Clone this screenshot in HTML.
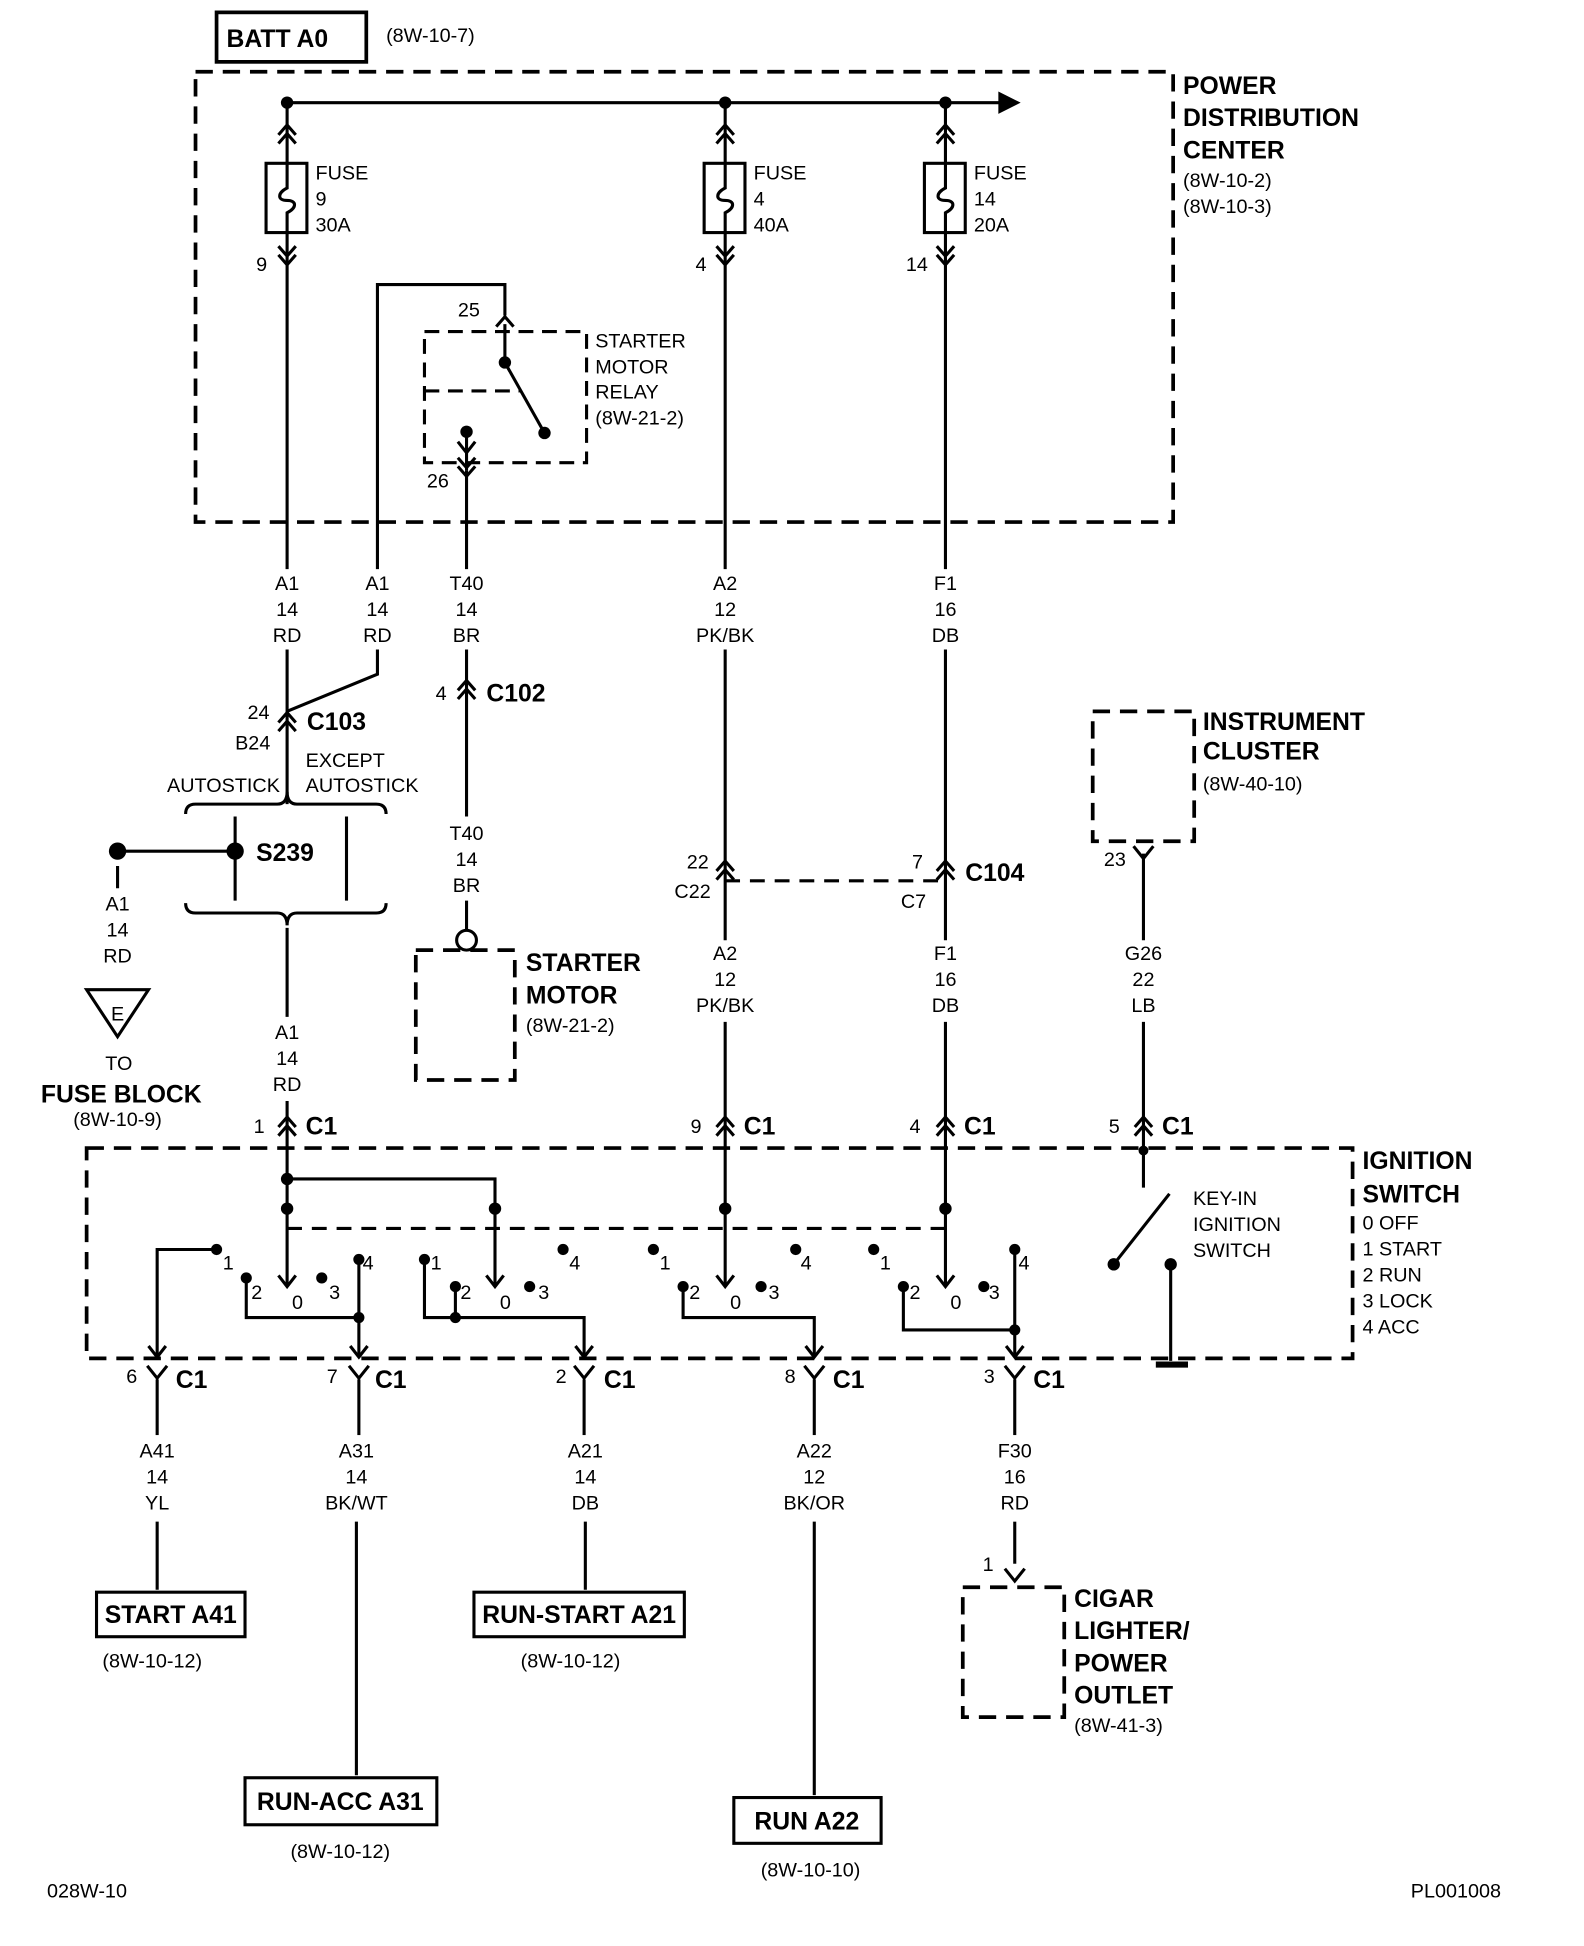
<!DOCTYPE html>
<html><head><meta charset="utf-8"><style>
html,body{margin:0;padding:0;background:#fff}
svg{display:block}
text{font-family:"Liberation Sans Narrow","Liberation Sans",sans-serif;fill:#000}
.s{font-size:16px}
.b{font-size:20px;font-weight:bold}
.m{text-anchor:middle}
</style></head><body>
<svg width="1584" height="1946" viewBox="0 0 1280 1573" preserveAspectRatio="none" xmlns="http://www.w3.org/2000/svg">
<defs>
<g id="up2"><polyline points="-7,6 0,-2 7,6" fill="none" stroke="#000" stroke-width="2.5"/><polyline points="-7,13 0,5 7,13" fill="none" stroke="#000" stroke-width="2.5"/></g>
<g id="dn2"><polyline points="-7,-6 0,2 7,-6" fill="none" stroke="#000" stroke-width="2.5"/><polyline points="-7,-13 0,-5 7,-13" fill="none" stroke="#000" stroke-width="2.5"/></g>
<g id="up1"><polyline points="-7,6 0,-2 7,6" fill="none" stroke="#000" stroke-width="2.5"/></g>
<g id="y1"><polyline points="-8,-8 0,2 8,-8" fill="none" stroke="#000" stroke-width="2.5"/></g>
<g id="arr"><polyline points="-7,-9 0,0 7,-9" fill="none" stroke="#000" stroke-width="2.5"/></g>
</defs>
<g stroke="#000" stroke-width="2.5" fill="none">
<rect x="175" y="10" width="121" height="40" stroke-width="3"/>
<rect x="158" y="58" width="790" height="364" stroke-width="3" stroke-dasharray="14,8"/>
<line x1="232" y1="83" x2="812" y2="83"/>
<polygon points="808,76 822,83 808,90" fill="#000"/>
<rect x="215" y="132" width="33" height="56"/>
<rect x="569" y="132" width="33" height="56"/>
<rect x="747" y="132" width="33" height="56"/>
<path d="M232,132 v20 c-8,4 -8,10 0,10 c8,0 8,6 0,10 v16"/>
<path d="M586,132 v20 c-8,4 -8,10 0,10 c8,0 8,6 0,10 v16"/>
<path d="M764,132 v20 c-8,4 -8,10 0,10 c8,0 8,6 0,10 v16"/>
<line x1="232" y1="83" x2="232" y2="132"/><line x1="232" y1="188" x2="232" y2="460"/>
<line x1="586" y1="83" x2="586" y2="132"/><line x1="586" y1="188" x2="586" y2="460"/>
<line x1="764" y1="83" x2="764" y2="132"/><line x1="764" y1="188" x2="764" y2="460"/>
<polyline points="305,460 305,230 408,230 408,255"/>
<rect x="343" y="268" width="131" height="106" stroke-dasharray="12,7"/>
<line x1="408" y1="262" x2="408" y2="293"/>
<line x1="408" y1="293" x2="440" y2="350"/>
<line x1="343" y1="316" x2="420" y2="316" stroke-dasharray="12,7"/>
<line x1="377" y1="349" x2="377" y2="380"/>
<line x1="377" y1="380" x2="377" y2="460"/>
<line x1="232" y1="525" x2="232" y2="650"/>
<polyline points="305,525 305,545 232,575"/>
<line x1="377" y1="525" x2="377" y2="660"/>
<line x1="377" y1="728" x2="377" y2="752"/>
<circle cx="377" cy="760" r="8"/>
<rect x="336" y="768" width="80" height="105" stroke-width="3" stroke-dasharray="14,8"/>
<line x1="586" y1="525" x2="586" y2="760"/><line x1="586" y1="826" x2="586" y2="1040"/>
<line x1="764" y1="525" x2="764" y2="760"/><line x1="764" y1="826" x2="764" y2="1040"/>
<line x1="586" y1="712" x2="764" y2="712" stroke-dasharray="12,8"/>
<path d="M150,658 q0,-8 8,-8 h66 q8,0 8,-10 q0,10 8,10 h64 q8,0 8,8"/>
<path d="M150,730 q0,8 8,8 h66 q8,0 8,10 q0,-10 8,-10 h64 q8,0 8,-8"/>
<line x1="190" y1="660" x2="190" y2="728"/>
<line x1="280" y1="660" x2="280" y2="728"/>
<line x1="95" y1="688" x2="190" y2="688"/>
<line x1="95" y1="700" x2="95" y2="718"/>
<polygon points="70,800 120,800 95,838"/>
<line x1="232" y1="750" x2="232" y2="822"/><line x1="232" y1="890" x2="232" y2="1040"/>
<rect x="883" y="575" width="82" height="105" stroke-width="3" stroke-dasharray="14,8"/>
<line x1="924" y1="690" x2="924" y2="760"/><line x1="924" y1="826" x2="924" y2="960"/>
<rect x="70" y="928" width="1023" height="170" stroke-width="3" stroke-dasharray="14,8"/>
<polyline points="232,953 400,953 400,1040"/>
<line x1="232" y1="993" x2="764" y2="993" stroke-dasharray="12,8"/>
<polyline points="175,1010 127,1010 127,1095"/>
<polyline points="199,1033 199,1065 290,1065"/>
<line x1="290" y1="1018" x2="290" y2="1095"/>
<polyline points="343,1018 343,1065 472,1065 472,1095"/>
<line x1="368" y1="1040" x2="368" y2="1065"/>
<polyline points="552,1040 552,1065 658,1065 658,1095"/>
<polyline points="730,1040 730,1075 820,1075"/>
<line x1="820" y1="1010" x2="820" y2="1095"/>
<line x1="945" y1="965" x2="900" y2="1022"/>
<line x1="946" y1="1022" x2="946" y2="1100"/>
<line x1="934" y1="1103" x2="960" y2="1103" stroke-width="5"/>
<line x1="127" y1="1115" x2="127" y2="1160"/><line x1="127" y1="1230" x2="127" y2="1285"/>
<line x1="290" y1="1115" x2="290" y2="1160"/><line x1="288" y1="1230" x2="288" y2="1435"/>
<line x1="472" y1="1115" x2="472" y2="1160"/><line x1="473" y1="1230" x2="473" y2="1285"/>
<line x1="658" y1="1115" x2="658" y2="1160"/><line x1="658" y1="1230" x2="658" y2="1451"/>
<line x1="820" y1="1115" x2="820" y2="1160"/><line x1="820" y1="1230" x2="820" y2="1264"/>
<rect x="78" y="1287" width="120" height="36"/>
<rect x="383" y="1287" width="170" height="36"/>
<rect x="198" y="1437" width="155" height="38"/>
<rect x="593" y="1453" width="119" height="37"/>
<rect x="778" y="1283" width="82" height="105" stroke-width="3" stroke-dasharray="14,8"/>
</g>
<use href="#up2" x="232" y="103"/><use href="#up2" x="586" y="103"/><use href="#up2" x="764" y="103"/>
<use href="#dn2" x="232" y="212"/><use href="#dn2" x="586" y="212"/><use href="#dn2" x="764" y="212"/>
<use href="#up1" x="408" y="258"/><use href="#arr" x="377" y="366"/><use href="#dn2" x="377" y="383"/>
<use href="#up2" x="232" y="578"/><use href="#up2" x="377" y="552"/>
<use href="#up2" x="586" y="698"/><use href="#up2" x="764" y="698"/>
<use href="#y1" x="924" y="692"/>
<use href="#up2" x="232" y="905"/><use href="#up2" x="586" y="905"/><use href="#up2" x="764" y="905"/><use href="#up2" x="924" y="905"/>
<use href="#arr" x="127" y="1097"/><use href="#arr" x="290" y="1097"/><use href="#arr" x="472" y="1097"/><use href="#arr" x="658" y="1097"/><use href="#arr" x="820" y="1097"/>
<use href="#arr" x="232" y="1040"/><use href="#arr" x="400" y="1040"/><use href="#arr" x="586" y="1040"/><use href="#arr" x="764" y="1040"/>
<use href="#y1" x="127" y="1112"/><use href="#y1" x="290" y="1112"/><use href="#y1" x="472" y="1112"/><use href="#y1" x="658" y="1112"/><use href="#y1" x="820" y="1112"/>
<use href="#y1" x="820" y="1276"/>
<g fill="#000">
<circle cx="232" cy="83" r="5"/><circle cx="586" cy="83" r="5"/><circle cx="764" cy="83" r="5"/>
<circle cx="408" cy="293" r="5"/><circle cx="440" cy="350" r="5"/><circle cx="377" cy="349" r="5"/>
<circle cx="95" cy="688" r="7"/><circle cx="190" cy="688" r="7"/>
<circle cx="232" cy="953" r="5"/><circle cx="232" cy="977" r="5"/><circle cx="400" cy="977" r="5"/><circle cx="586" cy="977" r="5"/><circle cx="764" cy="977" r="5"/>
<circle cx="175" cy="1010" r="4.5"/><circle cx="199" cy="1033" r="4.5"/><circle cx="260" cy="1033" r="4.5"/><circle cx="290" cy="1018" r="4.5"/><circle cx="290" cy="1065" r="4.5"/>
<circle cx="343" cy="1018" r="4.5"/><circle cx="368" cy="1040" r="4.5"/><circle cx="368" cy="1065" r="4.5"/><circle cx="428" cy="1040" r="4.5"/><circle cx="455" cy="1010" r="4.5"/>
<circle cx="528" cy="1010" r="4.5"/><circle cx="552" cy="1040" r="4.5"/><circle cx="615" cy="1040" r="4.5"/><circle cx="643" cy="1010" r="4.5"/>
<circle cx="706" cy="1010" r="4.5"/><circle cx="730" cy="1040" r="4.5"/><circle cx="795" cy="1040" r="4.5"/><circle cx="820" cy="1010" r="4.5"/><circle cx="820" cy="1075" r="4.5"/>
<circle cx="900" cy="1022" r="5"/><circle cx="946" cy="1022" r="5"/><circle cx="924" cy="930" r="4"/>
</g>
<text class="b" x="183" y="38">BATT A0</text>
<text class="s" x="312" y="34">(8W-10-7)</text>
<text class="b" x="956" y="76">POWER</text><text class="b" x="956" y="102">DISTRIBUTION</text><text class="b" x="956" y="128">CENTER</text>
<text class="s" x="956" y="151">(8W-10-2)</text><text class="s" x="956" y="172">(8W-10-3)</text>
<text class="s" x="255" y="145">FUSE</text><text class="s" x="255" y="166">9</text><text class="s" x="255" y="187">30A</text>
<text class="s" x="609" y="145">FUSE</text><text class="s" x="609" y="166">4</text><text class="s" x="609" y="187">40A</text>
<text class="s" x="787" y="145">FUSE</text><text class="s" x="787" y="166">14</text><text class="s" x="787" y="187">20A</text>
<text class="s" x="207" y="219">9</text><text class="s" x="562" y="219">4</text><text class="s" x="732" y="219">14</text>
<text class="s" x="370" y="256">25</text><text class="s" x="345" y="394">26</text>
<text class="s" x="481" y="281">STARTER</text><text class="s" x="481" y="302">MOTOR</text><text class="s" x="481" y="322">RELAY</text><text class="s" x="481" y="343">(8W-21-2)</text>
<text class="s m" x="232" y="477">A1</text><text class="s m" x="232" y="498">14</text><text class="s m" x="232" y="519">RD</text>
<text class="s m" x="305" y="477">A1</text><text class="s m" x="305" y="498">14</text><text class="s m" x="305" y="519">RD</text>
<text class="s m" x="377" y="477">T40</text><text class="s m" x="377" y="498">14</text><text class="s m" x="377" y="519">BR</text>
<text class="s m" x="586" y="477">A2</text><text class="s m" x="586" y="498">12</text><text class="s m" x="586" y="519">PK/BK</text>
<text class="s m" x="764" y="477">F1</text><text class="s m" x="764" y="498">16</text><text class="s m" x="764" y="519">DB</text>
<text class="s m" x="377" y="679">T40</text><text class="s m" x="377" y="700">14</text><text class="s m" x="377" y="721">BR</text>
<text class="s m" x="586" y="776">A2</text><text class="s m" x="586" y="797">12</text><text class="s m" x="586" y="818">PK/BK</text>
<text class="s m" x="764" y="776">F1</text><text class="s m" x="764" y="797">16</text><text class="s m" x="764" y="818">DB</text>
<text class="s m" x="924" y="776">G26</text><text class="s m" x="924" y="797">22</text><text class="s m" x="924" y="818">LB</text>
<text class="s m" x="95" y="736">A1</text><text class="s m" x="95" y="757">14</text><text class="s m" x="95" y="778">RD</text>
<text class="s m" x="95" y="825">E</text><text class="s m" x="96" y="865">TO</text>
<text class="b m" x="98" y="891">FUSE BLOCK</text><text class="s m" x="95" y="910">(8W-10-9)</text>
<text class="s m" x="232" y="840">A1</text><text class="s m" x="232" y="861">14</text><text class="s m" x="232" y="882">RD</text>
<text class="s m" x="127" y="1178">A41</text><text class="s m" x="127" y="1199">14</text><text class="s m" x="127" y="1220">YL</text>
<text class="s m" x="288" y="1178">A31</text><text class="s m" x="288" y="1199">14</text><text class="s m" x="288" y="1220">BK/WT</text>
<text class="s m" x="473" y="1178">A21</text><text class="s m" x="473" y="1199">14</text><text class="s m" x="473" y="1220">DB</text>
<text class="s m" x="658" y="1178">A22</text><text class="s m" x="658" y="1199">12</text><text class="s m" x="658" y="1220">BK/OR</text>
<text class="s m" x="820" y="1178">F30</text><text class="s m" x="820" y="1199">16</text><text class="s m" x="820" y="1220">RD</text>
<text class="b m" x="138" y="1312">START A41</text><text class="s m" x="123" y="1348">(8W-10-12)</text>
<text class="b m" x="468" y="1312">RUN-START A21</text><text class="s m" x="461" y="1348">(8W-10-12)</text>
<text class="b m" x="275" y="1463">RUN-ACC A31</text><text class="s m" x="275" y="1502">(8W-10-12)</text>
<text class="b m" x="652" y="1479">RUN A22</text><text class="s m" x="655" y="1517">(8W-10-10)</text>
<text class="s" x="200" y="581">24</text><text class="s" x="190" y="606">B24</text><text class="b" x="248" y="590">C103</text>
<text class="s" x="352" y="566">4</text><text class="b" x="393" y="567">C102</text>
<text class="s" x="247" y="620">EXCEPT</text><text class="s" x="247" y="640">AUTOSTICK</text><text class="s" x="135" y="640">AUTOSTICK</text>
<text class="b" x="207" y="696">S239</text>
<text class="b" x="425" y="785">STARTER</text><text class="b" x="425" y="811">MOTOR</text><text class="s" x="425" y="834">(8W-21-2)</text>
<text class="b" x="972" y="590">INSTRUMENT</text><text class="b" x="972" y="614">CLUSTER</text><text class="s" x="972" y="639">(8W-40-10)</text>
<text class="s" x="892" y="700">23</text>
<text class="s" x="555" y="702">22</text><text class="s" x="545" y="726">C22</text><text class="s" x="737" y="702">7</text><text class="s" x="728" y="734">C7</text><text class="b" x="780" y="712">C104</text>
<text class="s" x="205" y="916">1</text><text class="b" x="247" y="917">C1</text>
<text class="s" x="558" y="916">9</text><text class="b" x="601" y="917">C1</text>
<text class="s" x="735" y="916">4</text><text class="b" x="779" y="917">C1</text>
<text class="s" x="896" y="916">5</text><text class="b" x="939" y="917">C1</text>
<text class="b" x="1101" y="945">IGNITION</text><text class="b" x="1101" y="972">SWITCH</text>
<text class="s" x="1101" y="994">0 OFF</text><text class="s" x="1101" y="1015">1 START</text><text class="s" x="1101" y="1036">2 RUN</text><text class="s" x="1101" y="1057">3 LOCK</text><text class="s" x="1101" y="1078">4 ACC</text>
<text class="s" x="964" y="974">KEY-IN</text><text class="s" x="964" y="995">IGNITION</text><text class="s" x="964" y="1016">SWITCH</text>
<text class="s" x="180" y="1026">1</text><text class="s" x="203" y="1050">2</text><text class="s" x="236" y="1058">0</text><text class="s" x="266" y="1050">3</text><text class="s" x="293" y="1026">4</text>
<text class="s" x="348" y="1026">1</text><text class="s" x="372" y="1050">2</text><text class="s" x="404" y="1058">0</text><text class="s" x="435" y="1050">3</text><text class="s" x="460" y="1026">4</text>
<text class="s" x="533" y="1026">1</text><text class="s" x="557" y="1050">2</text><text class="s" x="590" y="1058">0</text><text class="s" x="621" y="1050">3</text><text class="s" x="647" y="1026">4</text>
<text class="s" x="711" y="1026">1</text><text class="s" x="735" y="1050">2</text><text class="s" x="768" y="1058">0</text><text class="s" x="799" y="1050">3</text><text class="s" x="823" y="1026">4</text>
<text class="s" x="102" y="1118">6</text><text class="b" x="142" y="1122">C1</text>
<text class="s" x="264" y="1118">7</text><text class="b" x="303" y="1122">C1</text>
<text class="s" x="449" y="1118">2</text><text class="b" x="488" y="1122">C1</text>
<text class="s" x="634" y="1118">8</text><text class="b" x="673" y="1122">C1</text>
<text class="s" x="795" y="1118">3</text><text class="b" x="835" y="1122">C1</text>
<text class="s" x="794" y="1270">1</text>
<text class="b" x="868" y="1299">CIGAR</text><text class="b" x="868" y="1325">LIGHTER/</text><text class="b" x="868" y="1351">POWER</text><text class="b" x="868" y="1377">OUTLET</text><text class="s" x="868" y="1400">(8W-41-3)</text>
<text class="s" x="38" y="1534">028W-10</text><text class="s" x="1140" y="1534">PL001008</text>
</svg>
</body></html>
